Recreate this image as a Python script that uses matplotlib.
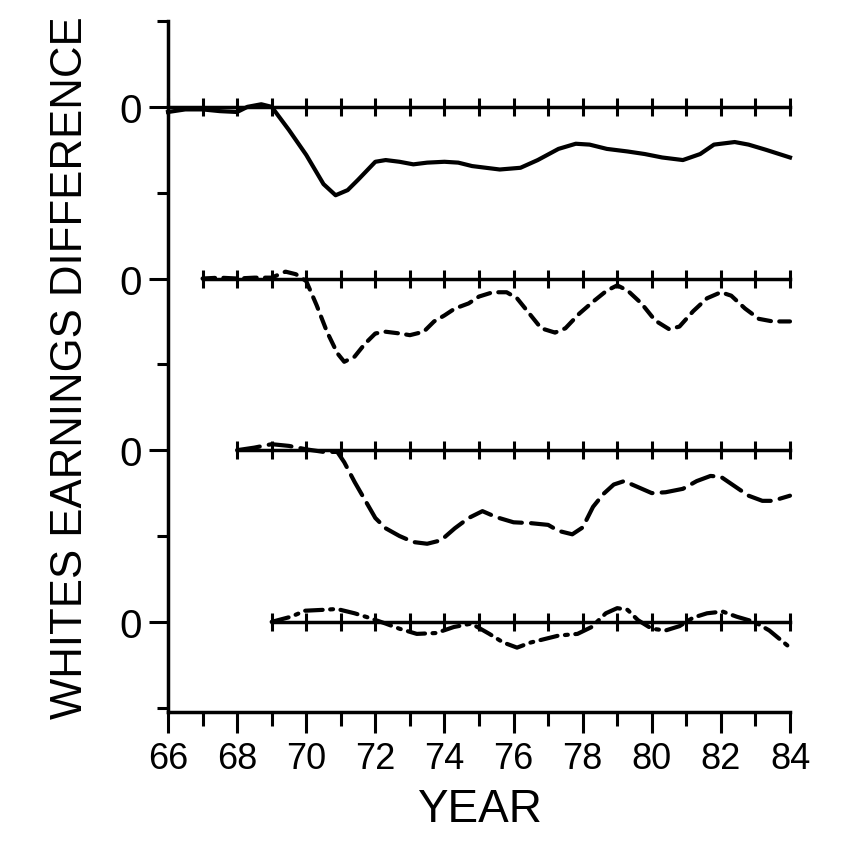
import numpy as np
import matplotlib
matplotlib.use('Agg')
import matplotlib.pyplot as plt

# year positions, values in axis units (one unit = one y tick step)
yr1 = [66.0, 66.5, 67.0, 67.5, 68.0, 68.3, 68.7, 69.0, 69.5, 70.0, 70.5, 70.85, 71.2, 71.5,
       72.0, 72.3, 72.7, 73.1, 73.5, 74.0, 74.4, 74.8, 75.2, 75.6, 76.2, 76.7, 77.3, 77.8,
       78.2, 78.7, 79.3, 79.8, 80.3, 80.9, 81.4, 81.8, 82.4, 82.8, 83.3, 84.0]
val1 = [-0.06, -0.03, -0.03, -0.05, -0.06, 0.0, 0.03, 0.0, -0.27, -0.56, -0.90, -1.03, -0.97, -0.85,
        -0.64, -0.62, -0.64, -0.67, -0.65, -0.64, -0.65, -0.69, -0.71, -0.73, -0.71, -0.62, -0.49, -0.43,
        -0.44, -0.49, -0.52, -0.55, -0.59, -0.62, -0.55, -0.44, -0.41, -0.44, -0.50, -0.59]

yr2 = [67.0, 67.5, 68.0, 68.5, 69.0, 69.4, 69.7, 70.0, 70.3, 70.6, 70.9, 71.1, 71.4, 71.7,
       72.0, 72.3, 72.7, 73.0, 73.4, 73.7, 74.0, 74.3, 74.7, 75.0, 75.4, 75.8, 76.1, 76.5,
       76.8, 77.2, 77.5, 77.9, 78.3, 78.7, 79.0, 79.3, 79.7, 80.1, 80.5, 80.8, 81.2, 81.6,
       82.0, 82.3, 82.7, 83.1, 83.5, 84.0]
val2 = [0.0, 0.01, 0.0, 0.01, 0.01, 0.08, 0.05, -0.03, -0.31, -0.62, -0.87, -0.97, -0.91, -0.76,
        -0.64, -0.62, -0.64, -0.66, -0.62, -0.50, -0.43, -0.35, -0.29, -0.21, -0.16, -0.16, -0.23, -0.43,
        -0.58, -0.63, -0.58, -0.41, -0.27, -0.14, -0.08, -0.14, -0.29, -0.49, -0.59, -0.56, -0.38, -0.23,
        -0.16, -0.20, -0.35, -0.47, -0.50, -0.50]

yr3 = [68.0, 68.5, 69.0, 69.5, 70.0, 70.5, 70.9, 71.1, 71.4, 71.7, 72.0, 72.3, 72.7, 73.1,
       73.5, 73.9, 74.3, 74.7, 75.1, 75.5, 76.0, 76.5, 77.0, 77.3, 77.7, 78.0, 78.3, 78.6,
       78.9, 79.2, 79.6, 80.0, 80.4, 80.9, 81.3, 81.7, 82.0, 82.4, 82.8, 83.2, 83.5, 84.0]
val3 = [0.0, 0.03, 0.07, 0.05, 0.01, -0.02, -0.02, -0.14, -0.37, -0.58, -0.79, -0.91, -1.00, -1.07,
        -1.09, -1.05, -0.91, -0.79, -0.71, -0.78, -0.84, -0.85, -0.87, -0.94, -0.98, -0.90, -0.66, -0.51,
        -0.40, -0.36, -0.43, -0.50, -0.49, -0.45, -0.36, -0.30, -0.31, -0.42, -0.53, -0.59, -0.59, -0.53]

yr4 = [69.0, 69.56, 69.97, 70.48, 70.89, 71.4, 71.8, 72.3, 72.7, 73.2, 73.76, 74.27, 74.78, 75.3,
       75.7, 76.1, 76.5, 76.8, 77.3, 77.85, 78.26, 78.67, 79.0, 79.3, 79.6, 80.0, 80.4, 80.8,
       81.2, 81.6, 82.05, 82.46, 82.97, 83.4, 84.0]
val4 = [0.0, 0.06, 0.13, 0.14, 0.15, 0.10, 0.05, -0.02, -0.08, -0.14, -0.13, -0.06, -0.02, -0.14,
        -0.24, -0.30, -0.24, -0.21, -0.16, -0.14, -0.06, 0.10, 0.16, 0.14, 0.02, -0.08, -0.10, -0.05,
        0.05, 0.10, 0.12, 0.06, 0.0, -0.10, -0.30]

starts = [66, 67, 68, 69]
offsets = [6, 4, 2, 0]
styles = ['-', (0, (3.0, 2.0)), (0, (5.5, 2.2)), (0, (4.2, 1.8, 0.7, 1.8))]

plt.rcParams['font.family'] = ['Liberation Sans', 'DejaVu Sans']

fig = plt.figure(figsize=(8.44, 8.45), dpi=100)
ax = fig.add_axes([168 / 844, 132 / 845, 622 / 844, 691 / 845])

for yr, val, st, off, ls in zip([yr1, yr2, yr3, yr4], [val1, val2, val3, val4], starts, offsets, styles):
    years = np.arange(st, 85)
    ax.plot([st, 84], [off, off], color='black', lw=2.5, clip_on=False)
    ax.plot(years, np.full(len(years), off), ls='none', marker='|', ms=13, mew=2.2,
            color='black', clip_on=False)
    ax.plot(yr, np.array(val) + off, color='black', lw=3.0, ls=ls, clip_on=False,
            solid_joinstyle='round', dash_capstyle='round')

ax.set_xlim(66, 84)
ax.set_ylim(-1.05, 7.0)
ax.spines['top'].set_visible(False)
ax.spines['right'].set_visible(False)
ax.spines['left'].set_linewidth(2.5)
ax.spines['bottom'].set_linewidth(2.5)

ax.set_xticks(np.arange(66, 85, 2))
ax.set_xticks(np.arange(67, 84, 2), minor=True)
ax.set_xticklabels([str(v) for v in range(66, 85, 2)])
ax.set_yticks(offsets)
ax.set_yticklabels(['0'] * 4)
ax.set_yticks([-1, 1, 3, 5, 7], minor=True)

ax.tick_params(axis='x', which='major', direction='out', length=15, width=2.2, labelsize=26, pad=6)
ax.tick_params(axis='x', which='minor', direction='out', length=10, width=2.2)
ax.tick_params(axis='y', which='major', direction='out', length=14, width=2.2, labelsize=29, pad=5)
ax.tick_params(axis='y', which='minor', direction='out', length=8, width=2.2)

ax.set_xlabel('YEAR', fontsize=33, labelpad=8)
ax.set_ylabel('WHITES EARNINGS DIFFERENCE', fontsize=31.5, labelpad=20)

fig.savefig('out.png', dpi=100, facecolor='white')
